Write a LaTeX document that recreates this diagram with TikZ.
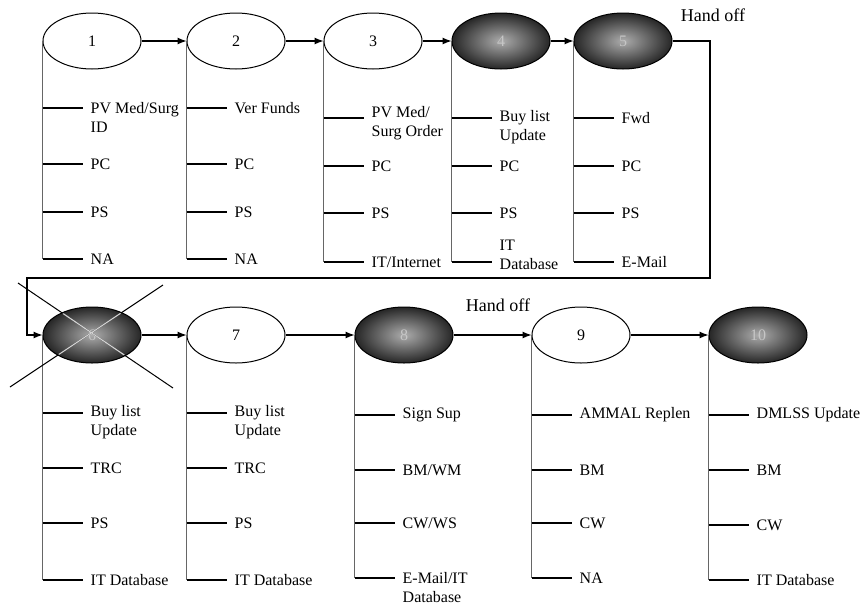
\documentclass[tikz,border=0pt]{standalone}
\usepackage{fontspec}
\setmainfont{Liberation Serif}
\usetikzlibrary{shapes.geometric, arrows.meta, calc}
\tikzset{
	stage/.style={ellipse, draw, line width=1pt, minimum width=98pt, minimum height=56pt,
		inner sep=0pt, font=\fontsize{16}{19}\selectfont}
}
\tikzset{
	darkstage/.style={stage, inner color=gray!65, outer color=black!85, text=gray!45}
}
\tikzset{
	flow/.style={line width=1.1pt, -{Latex[length=9pt,width=7pt]}},
	stem/.style={black!60, line width=0.8pt},
	tick/.style={line width=1.1pt},
	itemtext/.style={anchor=west, align=left, inner xsep=8pt, inner ysep=0pt,
		font=\fontsize{16}{19}\selectfont},
	handoff/.style={font=\fontsize{18}{21}\selectfont}
}

\begin{document}
\begin{tikzpicture}[x=1pt, y=-1pt]
      \useasboundingbox (0,0) rectangle (866,608);

      % first row of stages
      \node[stage]     (s1) at (92,41)  {1};
      \node[stage]     (s2) at (236,41) {2};
      \node[stage]     (s3) at (373,41) {3};
      \node[darkstage] (s4) at (501,41) {4};
      \node[darkstage] (s5) at (623,41) {5};

      % second row of stages
      \node[darkstage] (s6)  at (92,335)  {6};
      \node[stage]     (s7)  at (236,335) {7};
      \node[darkstage] (s8)  at (404,335) {8};
      \node[stage]     (s9)  at (581,335) {9};
      \node[darkstage] (s10) at (758,335) {10};

      \node[handoff] (ho1) at (713,15)  {Hand off};
      \node[handoff] (ho2) at (498,305) {Hand off};

      % arrows between stages
      \foreach \a/\b in {1/2, 2/3, 3/4, 4/5, 6/7, 7/8, 8/9, 9/10}
        \draw[flow] (s\a) -- (s\b);

      % hand off from row one to row two
      \coordinate (w1) at (710,41);
      \coordinate (w2) at (710,278);
      \coordinate (w3) at (27,278);
      \coordinate (w4) at (27,335);
      \draw[flow] (s5.east) -- (w1) -- (w2) -- (w3) -- (w4) -- (s6.west);

      % stems under each stage
      \foreach \s/\yb in {1/259, 2/259, 3/262, 4/262, 5/262, 6/580, 7/580, 8/578, 9/578, 10/580}
        \draw[stem] (s\s.west) -- (s\s.west |- 0,\yb);

      % branch items
      \foreach \s/\ty/\lab/\dy [count=\k] in {
          1/108/{PV Med/Surg\\ID}/-9.5, 1/164/PC/0, 1/212/PS/0, 1/259/NA/0,
          2/108/Ver Funds/0, 2/164/PC/0, 2/212/PS/0, 2/259/NA/0,
          3/118/{PV Med/\\Surg Order}/-5, 3/166/PC/0, 3/213/PS/0, 3/262/{IT/Internet}/0,
          4/118/{Buy list\\Update}/-9.5, 4/166/PC/0, 4/213/PS/0, 4/262/{IT\\Database}/7,
          5/118/Fwd/0, 5/166/PC/0, 5/213/PS/0, 5/262/E-Mail/0,
          6/413/{Buy list\\Update}/-9.5, 6/468/TRC/0, 6/523/PS/0, 6/580/IT Database/0,
          7/413/{Buy list\\Update}/-9.5, 7/468/TRC/0, 7/523/PS/0, 7/580/IT Database/0,
          8/415/Sign Sup/0, 8/470/{BM/WM}/0, 8/523/{CW/WS}/0, 8/578/{E-Mail/IT\\Database}/-10,
          9/415/AMMAL Replen/0, 9/470/BM/0, 9/523/CW/0, 9/578/NA/0,
          10/415/DMLSS Update/0, 10/470/BM/0, 10/525/CW/0, 10/580/IT Database/0} {
        \coordinate (t\k) at (s\s.west |- 0,\ty);
        \node[itemtext, yshift=\dy pt] (i\k) at ([xshift=40pt]t\k) {\lab};
        \draw[tick] (t\k) -- (i\k.west |- t\k);
      }

      % stage 6 crossed out
      \coordinate (x1) at (18,283);
      \coordinate (x2) at (173,388);
      \coordinate (x3) at (163,285);
      \coordinate (x4) at (10,387);
      \draw[line width=1pt] (x1) -- (x2) (x3) -- (x4);
      \begin{scope}
        \clip (s6.center) ellipse (48pt and 27pt);
        \draw[gray!35, line width=1.2pt] (x1) -- (x2) (x3) -- (x4);
      \end{scope}
    \end{tikzpicture}
\end{document}
